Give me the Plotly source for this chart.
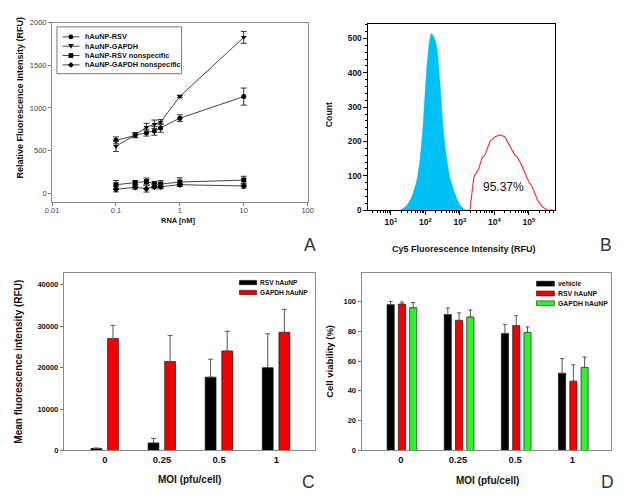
import plotly.graph_objects as go

W, H = 628, 499
def px(x):
    return x / W
def py(y):
    return 1 - y / H

FONT = "Liberation Sans, Arial, sans-serif"

# ---------------- Panel A data ----------------
rna_nM = [0.1, 0.2, 0.3, 0.4, 0.5, 1, 10]
a_names = ["hAuNP-RSV", "hAuNP-GAPDH", "hAuNP-RSV nonspecific", "hAuNP-GAPDH nonspecific"]
a_rsv = [620, 682, 710, 730, 765, 880, 1133]
a_rsv_err = [40, 30, 40, 50, 50, 40, 100]
a_gapdh = [550, 682, 775, 808, 834, 1135, 1828]
a_gapdh_err = [60, 30, 45, 50, 30, 15, 70]
a_rsv_ns = [100, 123, 138, 108, 108, 131, 154]
a_rsv_ns_err = [50, 25, 40, 30, 40, 50, 45]
a_gapdh_ns = [46, 69, 54, 77, 77, 100, 85]
a_gapdh_ns_err = [30, 20, 40, 25, 25, 20, 25]
a_ticks = [0.01, 0.1, 1, 10, 100]
a_ticktext = ["0.01", "0.1", "1", "10", "100"]

# ---------------- Panel B data ----------------
b_blue_x = [18.8, 28.8, 39.8, 56.2, 69.2, 87.1, 107, 129, 148, 174, 204, 229,
            269, 316, 398, 513, 692, 955, 1318, 1585]
b_blue_y = [0, 14, 38, 86, 143, 257, 400, 486, 514, 505, 486, 448,
            362, 257, 162, 95, 52, 19, 3, 0]
b_red_x = [1950, 2512, 3000, 3467, 4365, 5370, 6026, 7413, 10471, 14454, 19953,
           27542, 38019, 47863, 66069, 91201, 125893, 177828, 245471, 338844, 500000]
b_red_y = [0, 95, 110, 119, 152, 162, 176, 200, 214, 219, 214,
           190, 162, 152, 124, 90, 67, 29, 10, 0, 0]
b_pct = "95.37%"
b_ticks = [10, 100, 1000, 10000, 100000]
b_ticktext = ["10<sup>1</sup>", "10<sup>2</sup>", "10<sup>3</sup>", "10<sup>4</sup>", "10<sup>5</sup>"]

# ---------------- Panel C data ----------------
moi = ["0", "0.25", "0.5", "1"]
c_rsv = [500, 1820, 17700, 20000]
c_rsv_err = [100, 1100, 4350, 8200]
c_gapdh = [27030, 21500, 24030, 28540]
c_gapdh_err = [3200, 6300, 4750, 5550]
c_ticks = [0, 10000, 20000, 30000, 40000]
c_ticktext = ["0", "10000", "20000", "30000", "40000"]

# ---------------- Panel D data ----------------
d_vehicle = [97.8, 91.2, 78.5, 51.8]
d_vehicle_err = [2.2, 4.4, 6.1, 9.8]
d_rsv = [98.2, 87.3, 83.8, 46.5]
d_rsv_err = [1.4, 5.0, 6.6, 11.0]
d_gapdh = [95.8, 89.5, 79.2, 55.7]
d_gapdh_err = [3.5, 4.8, 3.7, 7.0]

fig = go.Figure()

# ---- Panel A traces ----
a_series = [
    (a_rsv, a_rsv_err, "circle"),
    (a_gapdh, a_gapdh_err, "triangle-down"),
    (a_rsv_ns, a_rsv_ns_err, "square"),
    (a_gapdh_ns, a_gapdh_ns_err, "diamond"),
]
for (vals, errs, sym), name in zip(a_series, a_names):
    fig.add_trace(go.Scatter(
        x=rna_nM, y=vals, name=name, mode="lines+markers",
        line=dict(color="#444", width=1),
        marker=dict(symbol=sym, size=5, color="black"),
        error_y=dict(type="data", array=errs, visible=True, color="#333",
                     thickness=1, width=3),
        xaxis="x", yaxis="y", showlegend=False))

# ---- Panel B traces ----
fig.add_trace(go.Scatter(
    x=b_blue_x, y=b_blue_y, mode="lines", fill="tozeroy",
    line=dict(color="#00BFF2", width=0.5, shape="spline", smoothing=0.6),
    fillcolor="#00BFF2", xaxis="x2", yaxis="y2", showlegend=False))
fig.add_trace(go.Scatter(
    x=b_red_x, y=b_red_y, mode="lines",
    line=dict(color="#F0383C", width=1.2),
    xaxis="x2", yaxis="y2", showlegend=False))

# ---- Panel C traces ----
zeros4 = [0, 0, 0, 0]
for vals, errs, col, off in [(c_rsv, c_rsv_err, "black", -0.245),
                             (c_gapdh, c_gapdh_err, "#F00000", 0.046)]:
    fig.add_trace(go.Bar(
        x=moi, y=vals, width=0.19, offset=off,
        marker=dict(color=col, line=dict(color="black", width=0.6)),
        error_y=dict(type="data", symmetric=False, array=errs, arrayminus=zeros4,
                     color="#555", thickness=1, width=2.5),
        xaxis="x3", yaxis="y3", showlegend=False))

# ---- Panel D traces ----
for vals, errs, col, off in [(d_vehicle, d_vehicle_err, "black", -0.2425),
                             (d_rsv, d_rsv_err, "#F00000", -0.045),
                             (d_gapdh, d_gapdh_err, "#33F033", 0.152)]:
    fig.add_trace(go.Bar(
        x=moi, y=vals, width=0.125, offset=off,
        marker=dict(color=col, line=dict(color="black", width=0.6)),
        error_y=dict(type="data", symmetric=False, array=errs, arrayminus=zeros4,
                     color="#555", thickness=1, width=2),
        xaxis="x4", yaxis="y4", showlegend=False))

# ---- axes ----
gray_ax = dict(showline=True, linecolor="#8a8a8a", linewidth=1, mirror=True,
               showgrid=False, zeroline=False)
black_ax = dict(showline=True, linecolor="black", linewidth=1, mirror=True,
                showgrid=False, zeroline=False)

b_minor = [k * 10 ** d for d in range(0, 6) for k in range(2, 10)]

fig.update_layout(
    width=W, height=H, margin=dict(l=0, r=0, t=0, b=0),
    paper_bgcolor="white", plot_bgcolor="white",
    font=dict(family=FONT, color="#222"),
    barmode="overlay", showlegend=False,
    xaxis=dict(domain=[px(46), px(307)], anchor="y", type="log", range=[-2, 2],
               tickmode="array", tickvals=a_ticks, ticktext=a_ticktext,
               ticks="outside", ticklen=3, tickcolor="#777", ticklabelstandoff=-2,
               tickfont=dict(size=7.5, color="#444"), **gray_ax),
    yaxis=dict(domain=[py(202), py(19)], anchor="x", range=[-107, 2000],
               tickmode="array", tickvals=[0, 500, 1000, 1500, 2000],
               ticks="outside", ticklen=3, tickcolor="#777",
               tickfont=dict(size=7.5, color="#444"), **gray_ax),
    xaxis2=dict(domain=[px(369), px(560)], anchor="y2", type="log", range=[0.347, 5.766],
                tickmode="array", tickvals=b_ticks, ticktext=b_ticktext,
                ticks="outside", ticklen=4, tickcolor="black",
                minor=dict(tickmode="array", tickvals=b_minor, ticks="outside",
                           ticklen=2, tickcolor="black"),
                tickfont=dict(size=8.5, color="#111", weight="bold"), **black_ax),
    yaxis2=dict(domain=[py(210), py(20)], anchor="x2", range=[0, 543],
                tickmode="array", tickvals=[0, 100, 200, 300, 400, 500],
                ticks="outside", ticklen=4, tickcolor="black",
                minor=dict(dtick=20, ticks="outside", ticklen=2, tickcolor="black"),
                tickfont=dict(size=8.3, color="#111", weight="bold"), **black_ax),
    xaxis3=dict(domain=[px(58), px(315)], anchor="y3", type="category",
                categoryorder="array", categoryarray=moi, range=[-0.72, 3.686],
                ticks="", tickfont=dict(size=9.5, color="#111", weight="bold"), **gray_ax),
    yaxis3=dict(domain=[py(454.7), py(274)], anchor="x3", range=[0, 42850],
                tickmode="array", tickvals=c_ticks, ticktext=c_ticktext,
                ticks="outside", ticklen=3, tickcolor="#777",
                tickfont=dict(size=7.5, color="#111", weight="bold"), **gray_ax),
    xaxis4=dict(domain=[px(362), px(617)], anchor="y4", type="category",
                categoryorder="array", categoryarray=moi, range=[-0.69, 3.68],
                ticks="", tickfont=dict(size=9.5, color="#111", weight="bold"), **gray_ax),
    yaxis4=dict(domain=[py(454.7), py(274)], anchor="x4", range=[0, 119],
                tickmode="array", tickvals=[0, 20, 40, 60, 80, 100],
                ticks="outside", ticklen=3, tickcolor="#777",
                tickfont=dict(size=7.5, color="#111", weight="bold"), **gray_ax),
)

shapes = []
ann = []

def text(x, y, s, size, bold=True, angle=0, xanchor="center", color="#111"):
    ann.append(dict(x=px(x), y=py(y), xref="paper", yref="paper", text=s,
                    showarrow=False, xanchor=xanchor, yanchor="middle",
                    textangle=angle,
                    font=dict(size=size, family=FONT, color=color,
                              weight="bold" if bold else "normal")))

# Axis titles
text(13.3, 95.3, "Relative Fluorescence Intensity (RFU)", 9, angle=-90)
text(174.3, 220, "RNA [nM]", 7.5)
text(329, 113, "Count", 8.7, angle=-90)
text(467, 250, "Cy5 Fluorescence Intensity (RFU)", 9)
text(12.3, 364.2, "Mean fluorescence intensity (RFU)", 10, angle=-90)
text(186.7, 484.5, "MOI (pfu/cell)", 10)
text(329, 364.2, "Cell viability (%)", 9.5, angle=-90)
text(490.7, 485, "MOI (pfu/cell)", 10)
# Panel letters
for lx, ly, lt in [(309, 245.7, "A"), (611.7, 245.7, "B"), (308, 487, "C"), (613, 487, "D")]:
    text(lx, ly, lt, 17.5, bold=False, color="#333")
# B percentage
text(506.7, 186.7, b_pct, 12, bold=False, color="#111")

# Legend A
shapes.append(dict(type="rect", xref="paper", yref="paper", x0=px(51), x1=px(178.3),
                   y0=py(71), y1=py(23.3), line=dict(color="#777", width=1)))
rows = [33.5, 43, 52.5, 62]
syms = ["circle", "triangle-down", "square", "diamond"]
for ry, sym, name in zip(rows, syms, a_names):
    shapes.append(dict(type="line", xref="paper", yref="paper", x0=px(56.7), x1=px(74),
                       y0=py(ry), y1=py(ry), line=dict(color="#444", width=1)))
    cx, r = 65.3, 2.4
    if sym == "circle":
        shapes.append(dict(type="circle", xref="paper", yref="paper",
                           x0=px(cx - r), x1=px(cx + r), y0=py(ry + r), y1=py(ry - r),
                           fillcolor="black", line=dict(width=0)))
    elif sym == "square":
        shapes.append(dict(type="rect", xref="paper", yref="paper",
                           x0=px(cx - r), x1=px(cx + r), y0=py(ry + r), y1=py(ry - r),
                           fillcolor="black", line=dict(width=0)))
    elif sym == "triangle-down":
        path = "M %f %f L %f %f L %f %f Z" % (px(cx - 2.8), py(ry - 2.2), px(cx + 2.8), py(ry - 2.2),
                                            px(cx), py(ry + 2.6))
        shapes.append(dict(type="path", xref="paper", yref="paper", path=path,
                           fillcolor="black", line=dict(width=0)))
    else:
        path = "M %f %f L %f %f L %f %f L %f %f Z" % (px(cx), py(ry - 3), px(cx + 3), py(ry),
                                                     px(cx), py(ry + 3), px(cx - 3), py(ry))
        shapes.append(dict(type="path", xref="paper", yref="paper", path=path,
                           fillcolor="black", line=dict(width=0)))
    text(77.3, ry, name, 7.3, xanchor="left")

# Legend C
for ry, col, name in [(283.7, "black", "RSV hAuNP"), (293.8, "#F00000", "GAPDH hAuNP")]:
    shapes.append(dict(type="rect", xref="paper", yref="paper", x0=px(237.3), x1=px(255),
                       y0=py(ry + 2.2), y1=py(ry - 2.2), fillcolor=col,
                       line=dict(color="black", width=0.5)))
    text(256.7, ry, name, 6.6, xanchor="left")

# Legend D
for ry, col, name in [(284.8, "black", "vehicle"), (294.8, "#F00000", "RSV hAuNP"),
                      (304.8, "#33F033", "GAPDH hAuNP")]:
    shapes.append(dict(type="rect", xref="paper", yref="paper", x0=px(540.7), x1=px(559),
                       y0=py(ry + 2.5), y1=py(ry - 2.5), fillcolor=col,
                       line=dict(color="black", width=0.5)))
    text(560.7, ry, name, 6.9, xanchor="left")

fig.update_layout(shapes=shapes, annotations=ann)
fig.write_html("out.html", config={"displayModeBar": False},
               post_script="document.body.style.margin='0px';")
